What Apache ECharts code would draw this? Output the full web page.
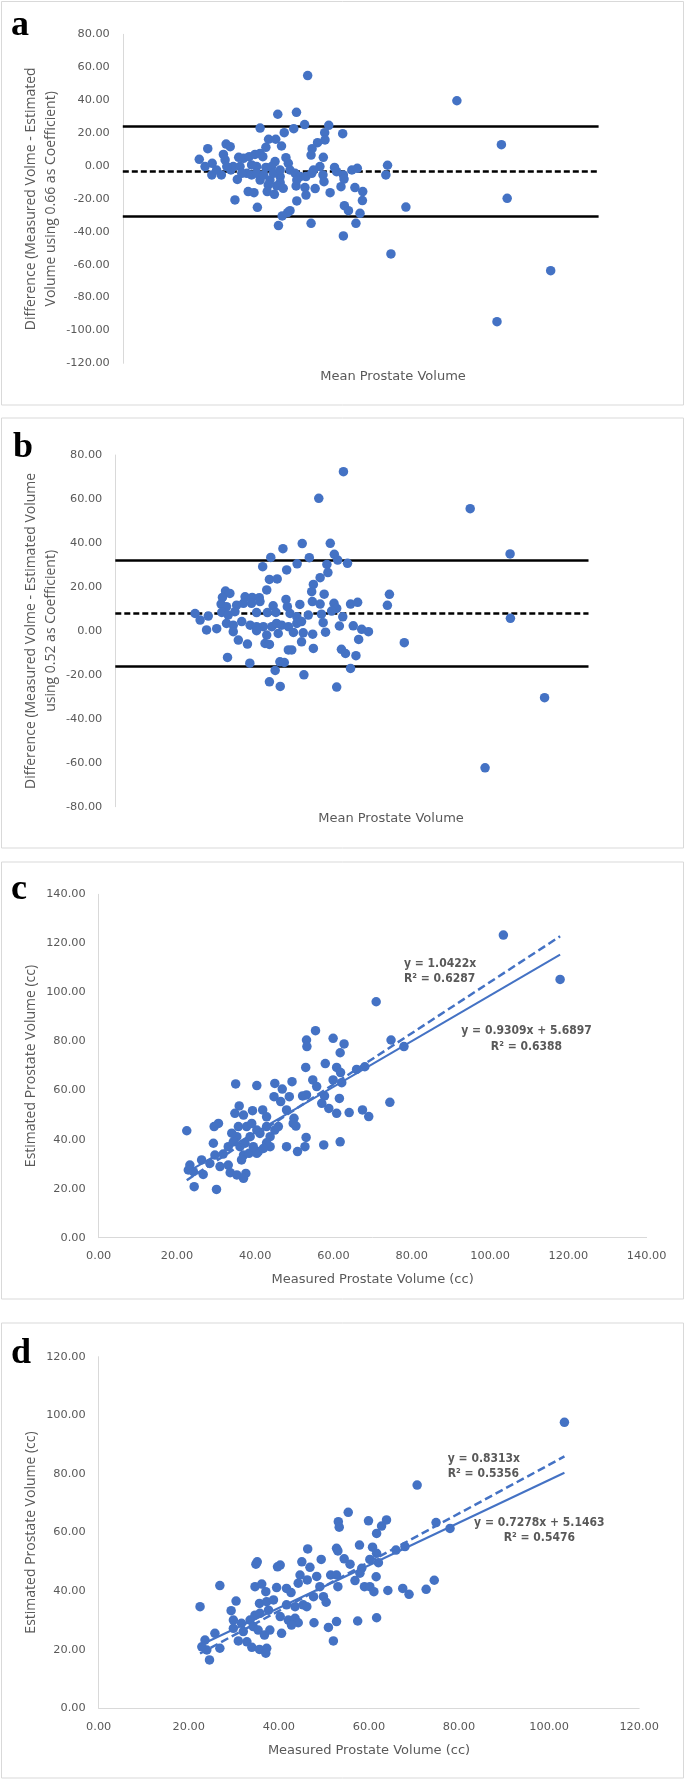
<!DOCTYPE html>
<html>
<head>
<meta charset="utf-8">
<script src="https://cdn.jsdelivr.net/npm/echarts@6/dist/echarts.min.js"></script>
<style>
  html, body { margin: 0; padding: 0; background: #fff; }
  #chart { width: 685px; height: 1780px; }
</style>
</head>
<body>
<div id="chart"></div>
<script>
// panel a: Bland-Altman, coefficient 0.66
const aMean = [
  54.4, 45.6, 51.1, 53.5, 40.4, 50.3, 60.6, 59.4, 64.7, 47.5,
  42.9, 45.0, 59.5, 46.7, 57.3, 55.7, 55.4, 59.0, 25.0, 30.4,
  31.6, 29.6, 30.1, 22.5, 34.1, 35.5, 37.2, 38.9, 40.4, 41.2,
  42.1, 26.3, 24.2, 26.2, 29.0, 31.8, 32.5, 34.5, 36.5, 37.9,
  39.4, 42.1, 44.8, 43.8, 48.0, 48.7, 49.2, 50.7, 52.2, 53.9,
  55.6, 58.0, 58.9, 59.2, 62.3, 62.9, 64.9, 65.1, 67.4, 69.0,
  77.9, 77.4, 33.7, 40.4, 43.3, 46.3, 46.3, 42.8, 45.3, 51.0,
  53.6, 56.6, 64.2, 68.3, 36.9, 38.6, 42.5, 44.6, 53.9, 61.0,
  70.6, 33.0, 51.2, 70.5, 83.3, 39.6, 65.2, 66.4, 69.8, 49.2,
  48.5, 46.9, 45.8, 55.4, 68.6, 64.9, 78.9,
  98.3, 111.4, 113.1, 110.1, 125.9,
  27.6, 30.6, 35.0, 37.9, 39.4, 41.4, 44.3, 46.3, 51.2, 47.2, 56.1
];
const aDiff = [
  54.9, 31.4, 32.6, 25.1, 23.0, 22.6, 24.7, 20.2, 19.6, 20.2,
  16.2, 16.2, 15.8, 12.1, 14.1, 10.5, 6.6, 5.2, 10.5, 13.3,
  11.7, 7.0, 3.6, 4.0, 5.2, 4.6, 5.6, 7.0, 7.6, 5.6,
  11.3, 1.6, -0.4, -5.5, -5.5, -2.5, -0.4, -0.4, -4.5, -5.5,
  -0.4, -0.9, 2.6, -0.4, 5.0, 1.6, -2.5, -4.5, -6.5, -6.5,
  -4.5, -0.4, -5.5, -9.6, -0.9, -3.5, -5.5, -8.0, -2.5, -1.5,
  0.4, -5.5, -8.2, -8.6, -8.6, -6.5, -10.2, -11.6, -12.2, -12.2,
  -13.2, -13.8, -12.6, -13.2, -15.6, -16.3, -15.6, -17.3, -17.7, -16.3,
  -15.6, -20.7, -21.3, -21.1, -25.0, -25.2, -24.2, -27.2, -28.8, -27.2,
  -28.4, -30.4, -36.3, -34.9, -34.9, -42.6, -53.5,
  39.6, 12.9, -19.7, -94.7, -63.7,
  -2.5, -0.4, -4.5, 0.6, -4.5, -5.5, -4.5, -2.5, -8.6, -13.6, -2.5
];
const aLimits = [23.8, -3.5, -30.5]; // upper, mean, lower

// panel b: Bland-Altman, coefficient 0.52
const bMean = [
  67.5, 60.2, 55.3, 63.6, 49.6, 46.0, 57.4, 64.8, 65.8, 68.7,
  53.8, 43.6, 62.6, 50.7, 62.9, 45.6, 47.9, 60.6, 58.6, 58.1,
  44.8, 61.8, 81.1, 80.5, 32.6, 33.9, 31.7, 38.4, 40.5, 42.6,
  31.3, 32.9, 35.9, 37.9, 40.3, 42.8, 46.7, 50.5, 50.9, 54.6,
  58.3, 60.6, 64.7, 65.5, 69.6, 71.7, 23.6, 27.5, 25.1, 27.0,
  30.0, 31.5, 33.4, 35.4, 41.8, 45.0, 47.5, 51.7, 53.7, 57.1,
  61.0, 64.0, 67.3, 32.9, 34.9, 37.4, 39.9, 41.8, 43.8, 46.3,
  47.7, 49.2, 51.2, 53.7, 55.1, 61.5, 66.3, 34.9, 41.8, 44.8,
  48.2, 52.7, 55.6, 58.4, 62.2, 70.4, 72.9, 74.9, 36.4, 39.1,
  44.3, 45.6, 55.1, 72.0, 85.5, 51.2, 52.2, 58.6, 66.9, 68.1,
  71.2, 33.2, 39.8, 48.7, 50.0, 69.6, 47.3, 45.6, 55.8, 48.8,
  65.5, 105.0, 116.8, 116.9, 127.0, 109.4
];
const bDiff = [
  72.4, 60.3, 39.7, 39.8, 37.4, 33.4, 33.3, 34.8, 32.2, 30.7,
  30.5, 29.2, 30.2, 27.7, 26.5, 23.4, 23.6, 24.2, 21.1, 17.8,
  18.6, 16.7, 16.6, 11.6, 18.1, 17.0, 15.2, 15.5, 15.2, 15.1,
  12.2, 11.0, 11.7, 12.5, 12.5, 13.3, 11.4, 14.3, 11.0, 12.0,
  13.3, 12.2, 12.5, 10.2, 12.2, 13.0, 7.9, 6.7, 4.9, 0.4,
  1.0, 8.4, 7.2, 8.7, 8.3, 8.3, 8.4, 7.9, 6.4, 7.2,
  7.6, 9.0, 6.4, 3.4, 2.6, 4.2, 2.6, 1.9, 1.9, 1.9,
  3.4, 2.6, 1.9, 3.4, 4.2, 3.7, 2.2, -0.4, 0.1, -1.9,
  -1.2, -0.7, -0.9, -1.5, -0.6, 2.3, 0.7, -0.4, -4.2, -6.0,
  -5.7, -6.2, -5.0, -3.9, -5.4, -8.7, -8.7, -8.0, -8.4, -10.3,
  -11.3, -12.1, -14.7, -14.1, -14.4, -17.1, -18.0, -23.2, -20.0, -25.3,
  -25.6, 55.6, 35.0, 5.7, -30.4, -62.3
];
const bLimits = [32.1, 7.9, -16.3];

// panel c: measured vs estimated (0.66)
const cMeasured = [
  70.9, 55.4, 53.1, 53.2, 59.9, 62.7, 61.7, 52.9, 57.9, 60.8,
  61.8, 65.9, 68.0, 74.7, 78.0, 35.0, 40.4, 45.0, 46.9, 49.4,
  54.7, 55.7, 59.9, 62.1, 44.8, 46.5, 48.7, 52.1, 53.1, 57.7,
  61.5, 57.0, 35.9, 34.8, 37.0, 39.3, 41.9, 42.9, 48.0, 49.9,
  50.4, 58.8, 60.8, 64.0, 67.4, 69.0, 74.4, 29.5, 30.6, 35.7,
  37.8, 40.4, 42.9, 45.0, 45.9, 22.5, 35.3, 38.7, 41.2, 43.8,
  53.0, 48.0, 50.8, 52.7, 57.5, 61.7, 29.3, 33.1, 34.4, 36.1,
  40.8, 43.8, 42.9, 26.3, 23.3, 29.7, 31.8, 37.0, 38.4, 36.5,
  40.4, 24.2, 26.7, 31.0, 33.1, 33.6, 35.3, 37.6, 37.0, 24.4,
  30.1, 103.4, 117.9, 34.0, 37.4, 39.5, 42.1, 22.9, 28.4, 39.1, 49.7
];
const cEstimated = [
  96.2, 84.4, 80.6, 77.9, 81.3, 79.0, 75.4, 69.4, 71.0, 69.4,
  67.3, 68.6, 69.7, 80.6, 77.9, 62.7, 62.0, 62.9, 60.6, 63.6,
  64.3, 61.6, 64.3, 63.2, 57.5, 55.5, 57.5, 57.8, 58.2, 57.8,
  56.8, 54.8, 53.7, 50.7, 50.0, 51.8, 52.1, 49.3, 52.1, 48.7,
  45.5, 52.7, 50.7, 51.0, 52.1, 49.4, 55.2, 45.3, 46.6, 45.3,
  45.3, 43.9, 45.3, 43.9, 45.3, 43.6, 41.2, 41.2, 42.5, 41.2,
  40.9, 37.1, 35.1, 37.1, 37.8, 39.1, 38.5, 37.1, 39.1, 37.1,
  35.1, 37.1, 38.7, 31.7, 29.6, 33.7, 34.1, 33.7, 34.4, 31.7,
  34.4, 26.9, 25.8, 29.0, 29.6, 26.5, 25.6, 26.2, 24.2, 20.8,
  19.7, 123.4, 105.3, 42.6, 38.5, 37.1, 36.4, 27.6, 30.3, 46.6, 46.6
];
const cFitLinear = [0.9309, 5.6897]; // slope, intercept
const cFitOrigin = [1.0422, 0];

// panel d: measured vs estimated (0.52)
const dMeasured = [
  70.7, 55.4, 53.2, 53.4, 59.9, 63.9, 62.8, 61.7, 74.9, 78.0,
  46.4, 52.8, 53.1, 57.9, 60.8, 61.7, 66.0, 68.0, 35.2, 34.9,
  40.3, 39.7, 45.1, 46.9, 49.4, 54.5, 55.8, 60.2, 62.1, 58.4,
  26.9, 34.7, 36.2, 37.1, 39.5, 41.7, 42.7, 44.7, 46.3, 44.3,
  48.4, 49.1, 51.5, 52.8, 53.1, 56.9, 58.0, 59.0, 60.2, 61.1,
  61.6, 64.2, 67.5, 68.9, 72.7, 74.5, 22.5, 30.5, 29.4, 35.7,
  37.3, 38.8, 41.7, 43.6, 45.4, 46.2, 47.7, 49.9, 50.5, 29.9,
  31.7, 33.6, 34.7, 35.8, 37.7, 40.3, 42.1, 43.6, 44.3, 47.8,
  51.0, 52.8, 57.5, 61.7, 25.8, 23.6, 29.9, 32.1, 34.3, 35.4,
  36.8, 38.0, 40.6, 42.8, 24.0, 26.9, 31.0, 32.9, 34.0, 35.7,
  37.3, 37.1, 52.1, 24.6, 22.9, 103.4
];
const dEstimated = [
  76.2, 66.9, 63.7, 61.8, 64.0, 64.3, 62.2, 59.7, 63.4, 61.4,
  54.4, 54.6, 53.7, 55.7, 55.0, 52.9, 54.0, 55.2, 50.0, 49.2,
  48.9, 48.3, 50.0, 48.1, 50.8, 51.0, 49.2, 50.8, 49.7, 47.8,
  41.9, 41.5, 42.4, 39.8, 41.2, 40.9, 39.5, 45.5, 43.8, 42.7,
  45.0, 41.5, 45.5, 45.5, 41.5, 43.6, 46.1, 41.5, 41.5, 39.8,
  44.9, 40.2, 40.9, 38.9, 40.6, 43.7, 34.7, 36.6, 33.3, 35.8,
  36.4, 37.0, 35.3, 34.7, 35.3, 34.7, 38.1, 38.1, 36.2, 30.1,
  29.0, 30.1, 31.8, 32.4, 33.5, 31.3, 30.1, 30.7, 29.2, 29.2,
  27.6, 29.6, 29.8, 30.9, 25.6, 23.3, 27.3, 26.2, 27.9, 26.7,
  25.0, 26.7, 25.6, 28.4, 19.9, 20.5, 23.0, 22.7, 20.8, 20.1,
  20.5, 18.8, 23.0, 16.5, 21.0, 97.6
];
const dFitLinear = [0.7278, 5.1463];
const dFitOrigin = [0.8313, 0];

const blue = '#4472C4';
const grey = '#595959';
const axisGrey = '#D9D9D9';
const tickFont = { color: grey, fontSize: 11.3, fontFamily: "'DejaVu Sans', sans-serif" };
const yTitleFont = "14px 'Open Sans', 'Noto Sans', sans-serif";
const xTitleFont = "13px 'DejaVu Sans', sans-serif";
const eqFont = "bold 12px 'Liberation Sans Narrow', 'DejaVu Sans Condensed', sans-serif";
const letterFont = "bold 36px 'Liberation Serif', 'DejaVu Serif', serif";

const zip = (xs, ys) => xs.map((x, i) => [x, ys[i]]);
const fit = (coef, xs) => {
  const lo = Math.min(...xs), hi = Math.max(...xs);
  return [[lo, coef[0] * lo + coef[1]], [hi, coef[0] * hi + coef[1]]];
};
const fmt = v => v.toFixed(2);

function yAxis(idx, min, max) {
  return {
    gridIndex: idx, type: 'value', min: min, max: max, interval: 20,
    axisLine: { show: true, onZero: false, lineStyle: { color: axisGrey, width: 1 } },
    axisTick: { show: false },
    splitLine: { show: false },
    axisLabel: Object.assign({ margin: 13, formatter: fmt }, tickFont)
  };
}
function xAxisVisible(idx, max) {
  return {
    gridIndex: idx, type: 'value', min: 0, max: max, interval: 20,
    axisLine: { show: true, lineStyle: { color: axisGrey, width: 1 } },
    axisTick: { show: false },
    splitLine: { show: false },
    axisLabel: Object.assign({ margin: 13, formatter: fmt }, tickFont)
  };
}
function limitLines(limits) {
  return {
    silent: true, symbol: 'none', z: 1,
    label: { show: false },
    lineStyle: { color: '#000', width: 2.5, type: 'solid' },
    data: [
      { yAxis: limits[0] },
      { yAxis: limits[1], lineStyle: { type: [6, 3] } },
      { yAxis: limits[2] }
    ]
  };
}
function dots(idx, data, extra) {
  return Object.assign({
    type: 'scatter', xAxisIndex: idx, yAxisIndex: idx, data: data,
    symbolSize: 9.5, itemStyle: { color: blue, opacity: 1 }, z: 3
  }, extra || {});
}
function trend(idx, data, dashed) {
  return {
    type: 'line', xAxisIndex: idx, yAxisIndex: idx, data: data,
    showSymbol: false, silent: true, z: 4,
    lineStyle: { color: blue, width: dashed ? 2.5 : 2, type: dashed ? [8, 4] : 'solid' }
  };
}
function txt(x, y, text, font, align, fill, rot) {
  return {
    type: 'text', x: x, y: y, rotation: rot || 0, silent: true,
    style: { text: text, font: font, fill: fill || grey,
      align: align || 'left', verticalAlign: 'middle',
      textAlign: align || 'left', textVerticalAlign: 'middle' }
  };
}
function vtxt(x, y, text) {
  return txt(x, y, text, yTitleFont, 'center', grey, Math.PI / 2);
}
function box(y1, y2) {
  return { type: 'rect', silent: true, z: -1,
    shape: { x: 1.5, y: y1, width: 682, height: y2 - y1 },
    style: { fill: 'none', stroke: axisGrey, lineWidth: 1 } };
}

const chart = echarts.init(document.getElementById('chart'));
chart.setOption({
  backgroundColor: '#fff',
  animation: false,
  grid: [
    { left: 122.8, right: 86.4, top: 34.3, bottom: 1416.7 },
    { left: 115.3, right: 96.5, top: 455, bottom: 973.3 },
    { left: 98.7, right: 38.4, top: 894.3, bottom: 542.3 },
    { left: 98.7, right: 45.8, top: 1356.7, bottom: 71.7 }
  ],
  xAxis: [
    { gridIndex: 0, type: 'value', min: 0, max: 140, show: false },
    { gridIndex: 1, type: 'value', min: 0, max: 140, show: false },
    xAxisVisible(2, 140),
    xAxisVisible(3, 120)
  ],
  yAxis: [
    yAxis(0, -120, 80),
    yAxis(1, -80, 80),
    yAxis(2, 0, 140),
    yAxis(3, 0, 120)
  ],
  series: [
    dots(0, zip(aMean, aDiff), { markLine: limitLines(aLimits) }),
    dots(1, zip(bMean, bDiff), { markLine: limitLines(bLimits) }),
    dots(2, zip(cMeasured, cEstimated)),
    trend(2, fit(cFitLinear, cMeasured), false),
    trend(2, fit(cFitOrigin, cMeasured), true),
    dots(3, zip(dMeasured, dEstimated)),
    trend(3, fit(dFitLinear, dMeasured), false),
    trend(3, fit(dFitOrigin, dMeasured), true)
  ],
  graphic: [
    box(1.5, 405), box(418, 848), box(862, 1299), box(1323, 1778),
    txt(11, 25.6, 'a', letterFont, 'left', '#000'),
    txt(13, 447.3, 'b', letterFont, 'left', '#000'),
    txt(11, 889.6, 'c', letterFont, 'left', '#000'),
    txt(11, 1354, 'd', letterFont, 'left', '#000'),
    vtxt(30.6, 198.8, 'Difference (Measured Volme - Estimated'),
    vtxt(51.5, 198.8, 'Volume using 0.66 as Coefficient)'),
    vtxt(30.6, 630.9, 'Difference (Measured Volme - Estimated Volume'),
    vtxt(51.5, 630.9, 'using 0.52 as Coefficient)'),
    vtxt(30.6, 1066, 'Estimated Prostate Volume (cc)'),
    vtxt(30.6, 1532.5, 'Estimated Prostate Volume (cc)'),
    txt(393, 377, 'Mean Prostate Volume', xTitleFont, 'center'),
    txt(391, 819, 'Mean Prostate Volume', xTitleFont, 'center'),
    txt(372.6, 1280, 'Measured Prostate Volume (cc)', xTitleFont, 'center'),
    txt(369, 1750.7, 'Measured Prostate Volume (cc)', xTitleFont, 'center'),
    txt(404, 964, 'y = 1.0422x', eqFont),
    txt(404, 979, 'R² = 0.6287', eqFont),
    txt(526.5, 1031, 'y = 0.9309x + 5.6897', eqFont, 'center'),
    txt(526.5, 1046.7, 'R² = 0.6388', eqFont, 'center'),
    txt(447.8, 1459.3, 'y = 0.8313x', eqFont),
    txt(447.8, 1474.3, 'R² = 0.5356', eqFont),
    txt(539.3, 1522.7, 'y = 0.7278x + 5.1463', eqFont, 'center'),
    txt(539.3, 1538.3, 'R² = 0.5476', eqFont, 'center')
  ]
});
</script>
</body>
</html>
